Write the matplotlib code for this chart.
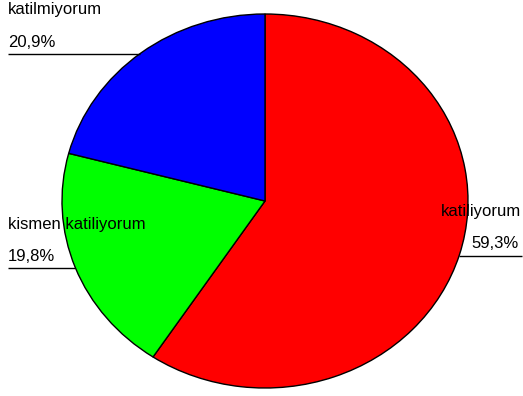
import numpy as np
import matplotlib
matplotlib.use("Agg")
import matplotlib.pyplot as plt

labels = ["katiliyorum", "kismen katiliyorum", "katilmiyorum"]
values = [59.3, 19.8, 20.9]
pct_labels = ["59,3%", "19,8%", "20,9%"]
colors = ["#ff0000", "#00ff00", "#0000ff"]

W, H = 523, 396
DPI = 100
fig = plt.figure(figsize=(W / DPI, H / DPI), dpi=DPI)
plt.rcParams['font.family'] = ['Liberation Sans', 'DejaVu Sans']

# pie bounding box in pixels
cx, cy, rx, ry = 265, 201, 203, 187
axp = fig.add_axes([(cx - rx) / W, (H - (cy + ry)) / H, 2 * rx / W, 2 * ry / H])
axp.pie(values, colors=colors, startangle=90, counterclock=False,
        wedgeprops=dict(edgecolor="black", linewidth=1.0))
axp.set_aspect("auto")
axp.set_xlim(-1, 1)
axp.set_ylim(-1, 1)
axp.axis("off")

ov = fig.add_axes([0, 0, 1, 1], zorder=5)
ov.set_xlim(0, W)
ov.set_ylim(H, 0)
ov.axis("off")
ov.patch.set_alpha(0)

fs = 12

def edge_x(y, side):
    dy = (y - cy) / ry
    dx = np.sqrt(max(0.0, 1 - dy * dy)) * rx
    return cx + side * dx

layout = {
    "katiliyorum": ((441, 216), (471, 248), 256, 522, +1),
    "kismen katiliyorum": ((8, 229), (8, 261), 268, 8, -1),
    "katilmiyorum": ((8, 14), (8, 47), 54, 8, -1),
}
for lab, pct in zip(labels, pct_labels):
    (nx, ny), (px, py), ly, lx, side = layout[lab]
    ov.text(nx, ny, lab, fontsize=fs, ha="left", va="baseline", color="black")
    ov.text(px, py, pct, fontsize=fs, ha="left", va="baseline", color="black")
    ex = edge_x(ly, side)
    ov.plot([lx, ex], [ly, ly], color="black", lw=1.0, solid_capstyle="butt")

fig.savefig("out.png", dpi=DPI)
